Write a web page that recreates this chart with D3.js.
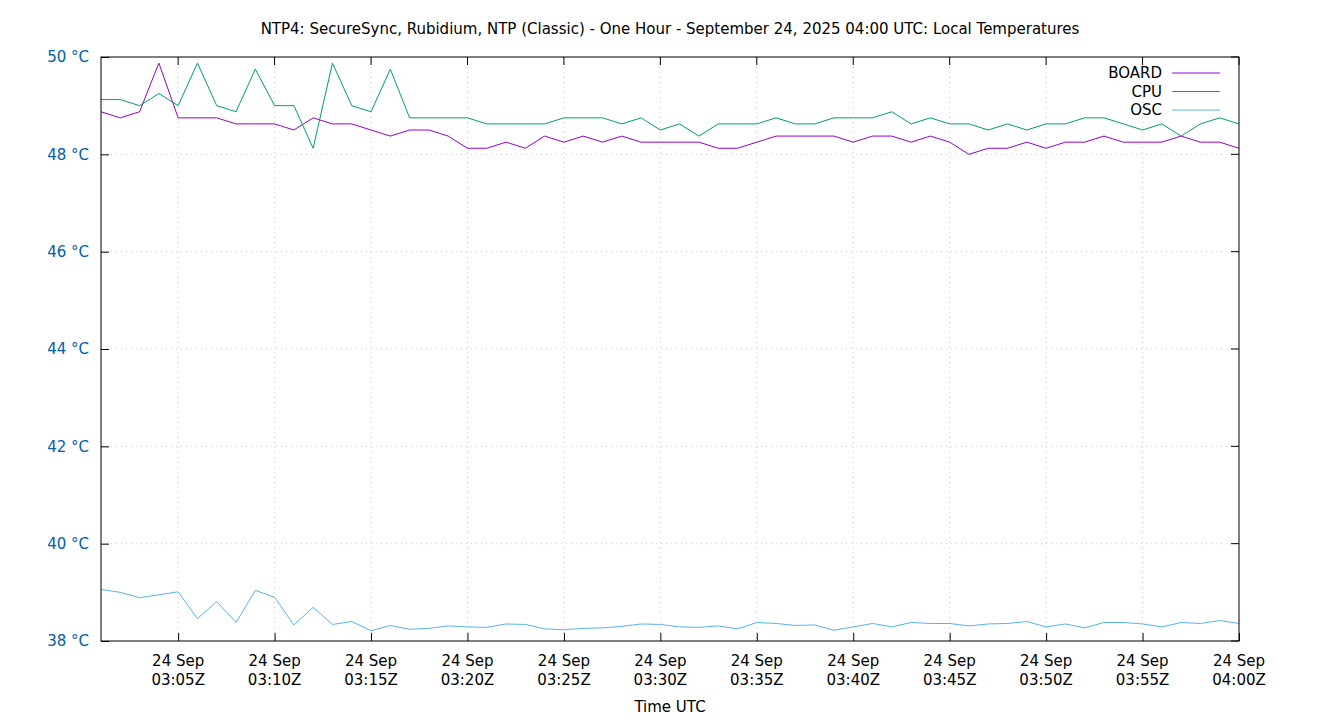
<!DOCTYPE html>
<html><head><meta charset="utf-8">
<script src="https://cdn.jsdelivr.net/npm/d3@7"></script>
<style>body{margin:0;background:#fff}svg{font-family:"DejaVu Sans",sans-serif}</style>
</head><body><svg id="c" width="1340" height="720"></svg>
<script>
const title = "NTP4: SecureSync, Rubidium, NTP (Classic) - One Hour - September 24, 2025 04:00 UTC: Local Temperatures";
const startMinute = 1; // 03:01
const board = [48.875,48.75,48.875,49.875,48.75,48.75,48.75,48.625,48.625,48.625,48.5,48.75,48.625,48.625,48.5,48.375,48.5,48.5,48.375,48.125,
 48.125,48.25,48.125,48.375,48.25,48.375,48.25,48.375,48.25,48.25,48.25,48.25,48.125,48.125,48.25,48.375,48.375,48.375,48.375,48.25,
 48.375,48.375,48.25,48.375,48.25,48.0,48.125,48.125,48.25,48.125,48.25,48.25,48.375,48.25,48.25,48.25,48.375,48.25,48.25,48.125];
const cpu = [49.125,49.125,49.0,49.25,49.0,49.875,49.0,48.875,49.75,49.0,49.0,48.125,49.875,49.0,48.875,49.75,48.75,48.75,48.75,48.75,
 48.625,48.625,48.625,48.625,48.75,48.75,48.75,48.625,48.75,48.5,48.625,48.375,48.625,48.625,48.625,48.75,48.625,48.625,48.75,48.75,
 48.75,48.875,48.625,48.75,48.625,48.625,48.5,48.625,48.5,48.625,48.625,48.75,48.75,48.625,48.5,48.625,48.375,48.625,48.75,48.625];
const osc = [39.06,39.0,38.89,38.95,39.01,38.46,38.81,38.38,39.04,38.9,38.33,38.69,38.34,38.4,38.21,38.32,38.24,38.26,38.31,38.29,
 38.28,38.35,38.34,38.25,38.23,38.26,38.27,38.3,38.35,38.34,38.29,38.28,38.31,38.25,38.38,38.36,38.32,38.33,38.22,38.29,
 38.36,38.29,38.38,38.36,38.36,38.31,38.35,38.36,38.40,38.29,38.35,38.27,38.38,38.38,38.35,38.29,38.38,38.36,38.42,38.36];
const yTicks = [38,40,42,44,46,48,50];
const xTickMinutes = [5,10,15,20,25,30,35,40,45,50,55,60];
const series = [{name:"BOARD",values:board,color:"#9400d3"},{name:"CPU",values:cpu,color:"#009e73"},{name:"OSC",values:osc,color:"#56b4e9"}];

const svg = d3.select("#c");
const L=101,R=1239,T=57,B=641;
const x = d3.scaleLinear().domain([1,60]).range([L,R]);
const y = d3.scaleLinear().domain([38,50]).range([B,T]);

svg.append("text").attr("x",670).attr("y",34).attr("text-anchor","middle").attr("font-size",15).text(title);

// grid
svg.append("g").selectAll("line").data(yTicks.slice(1,-1)).join("line")
  .attr("x1",L).attr("x2",R).attr("y1",d=>y(d)).attr("y2",d=>y(d))
  .attr("stroke","#c8c8c8").attr("stroke-dasharray","1,4");
svg.append("g").selectAll("line").data(xTickMinutes.slice(0,-1)).join("line")
  .attr("x1",d=>x(d)).attr("x2",d=>x(d)).attr("y1",T).attr("y2",B)
  .attr("stroke","#c8c8c8").attr("stroke-dasharray","1,4");

// axes
const ya = d3.axisLeft(y).tickValues(yTicks).tickSize(-8).tickFormat(d=>d+" °C").tickPadding(12);
const gy = svg.append("g").attr("transform",`translate(${L},0)`).call(ya);
gy.select(".domain").remove();
gy.selectAll("text").attr("fill","#0060ad").attr("font-size",15).attr("font-family","DejaVu Sans");
gy.selectAll("line").attr("stroke","#000");
const xa = d3.axisBottom(x).tickValues(xTickMinutes).tickSize(-8).tickFormat("");
const gx = svg.append("g").attr("transform",`translate(0,${B})`).call(xa);
gx.select(".domain").remove();
gx.selectAll("line").attr("stroke","#000");
const fmtM = m => { const h = m>=60?4:3; const mm = m%60; return "0"+h+":"+String(mm).padStart(2,"0")+"Z"; };
const lbl = svg.append("g").selectAll("g").data(xTickMinutes).join("g").attr("transform",d=>`translate(${x(d)},0)`);
lbl.append("text").attr("y",666).attr("text-anchor","middle").attr("font-size",15).text("24 Sep");
lbl.append("text").attr("y",685).attr("text-anchor","middle").attr("font-size",15).text(d=>fmtM(d));
svg.append("text").attr("x",670).attr("y",712).attr("text-anchor","middle").attr("font-size",15).text("Time UTC");

// right y ticks mirror
svg.append("g").selectAll("line").data(yTicks).join("line")
  .attr("x1",R-8).attr("x2",R).attr("y1",d=>y(d)).attr("y2",d=>y(d)).attr("stroke","#000");
svg.append("g").selectAll("line").data(xTickMinutes).join("line")
  .attr("x1",d=>x(d)).attr("x2",d=>x(d)).attr("y1",T).attr("y2",T+8).attr("stroke","#000");

const line = d3.line().x((d,i)=>x(i+startMinute)).y(d=>y(d));
series.forEach(s=>{
  svg.append("path").attr("d",line(s.values)).attr("fill","none").attr("stroke",s.color).attr("stroke-width",1);
});
svg.append("rect").attr("x",L).attr("y",T).attr("width",R-L).attr("height",B-T).attr("fill","none").attr("stroke","#000").attr("stroke-width",1);

// legend
const lg = svg.append("g").selectAll("g").data(series).join("g").attr("transform",(d,i)=>`translate(0,${73+i*18.5})`);
lg.append("text").attr("x",1162).attr("y",5).attr("text-anchor","end").attr("font-size",15).text(d=>d.name);
lg.append("line").attr("x1",1172).attr("x2",1220).attr("stroke",d=>d.color);
</script></body></html>
